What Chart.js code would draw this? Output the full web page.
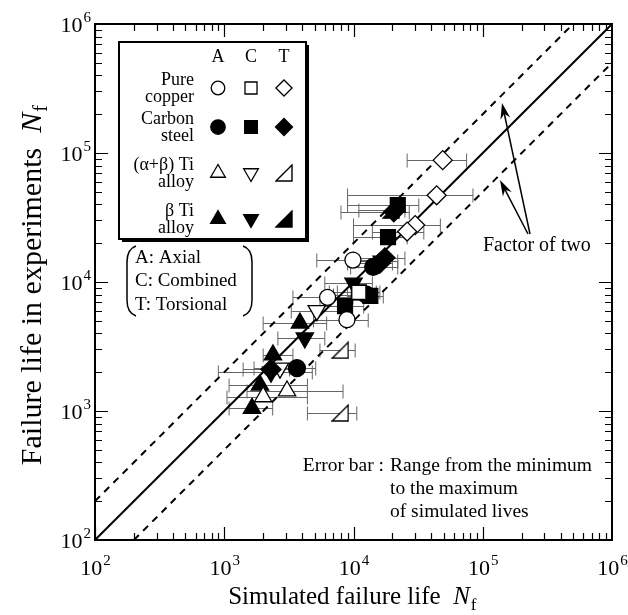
<!DOCTYPE html>
<html>
<head>
<meta charset="utf-8">
<script src="https://cdn.jsdelivr.net/npm/chart.js@4.4.1/dist/chart.umd.min.js"></script>
<style>
html, body { margin: 0; padding: 0; background: #fff; }
</style>
</head>
<body>
<canvas id="myChart" width="628" height="615"></canvas>
<script>
const ctx = document.getElementById("myChart");
const serif = '"Liberation Serif", "Times New Roman", serif';

// each row: [simulated life, experimental life, min simulated, max simulated]
const copperAxial = [[9900, 14800, 5200, 15500], [6300, 7600, 3400, 9900], [8900, 5100, 4900, 13000]];
const copperComb = [[11000, 8300, 7500, 15000]];
const copperTors = [[49000, 88000, 26000, 75000], [44000, 47000, 9000, 84000], [30000, 27600, 10000, 47000], [26000, 24600, 14000, 35000]];
const steelAxial = [[14200, 13100, 9500, 22000], [3650, 2150, 2300, 5100], [12500, 8000, 7000, 15000]];
const steelComb = [[8600, 6500, 5500, 12000], [18500, 22300, 10000, 26000], [22000, 39500, 9000, 32000], [11000, 8300, 6500, 16000], [13500, 7800, 9000, 17000]];
const steelTors = [[20500, 35000, 8000, 27000], [17500, 15400, 10000, 25000], [2300, 2100, 1400, 3200], [16000, 14000, 9000, 20000]];
const abTiAxial = [[2000, 1290, 1050, 4400], [3060, 1430, 1500, 8300]];
const abTiComb = [[5200, 6000, 3300, 8000], [2700, 2150, 1700, 3400]];
const abTiTors = [[7900, 2960, 5500, 10300], [7900, 965, 4400, 10600]];
const bTiAxial = [[3850, 4800, 2000, 6200], [2380, 2720, 2000, 3400], [1890, 1590, 1090, 4400], [1640, 1050, 1090, 2370]];
const bTiComb = [[4200, 3680, 2600, 6000], [10000, 9800, 6000, 14000], [16500, 14500, 11000, 22000], [2300, 2000, 900, 4800]];
const bTiTors = [[19500, 36000, 11000, 25000]];

const decades = [2, 3, 4, 5, 6];
const legendRows = [["Pure", "copper"], ["Carbon", "steel"], ["(\u03b1+\u03b2) Ti", "alloy"], ["\u03b2 Ti", "alloy"]];
const legendModes = ["A", "C", "T"];
const modeNotes = ["A: Axial", "C: Combined", "T: Torsional"];

let halfTri = (fill) => {
    const c = document.createElement("canvas");
    c.width = 18; c.height = 18;
    const g = c.getContext("2d");
    g.beginPath();
    g.moveTo(1, 17); g.lineTo(17, 17); g.lineTo(17, 1); g.closePath();
    g.fillStyle = fill; g.fill();
    g.lineWidth = 1.4; g.strokeStyle = "#000"; g.stroke();
    return c;
};

let series = (rows, style, radius, fill, rotation) => ({
    data: rows.map(r => ({ x: r[0], y: r[1] })),
    bars: rows.map(r => [r[2], r[3]]),
    pointStyle: style,
    pointRadius: radius,
    pointRotation: rotation || 0,
    pointBackgroundColor: fill,
    pointBorderColor: "#000",
    pointBorderWidth: 1.3,
    showLine: false,
    order: 0
});

const markerSets = [
    series(copperAxial, "circle", 8, "#fff"),
    series(copperComb, "rect", 10, "#fff"),
    series(copperTors, "rectRot", 9.5, "#fff"),
    series(steelAxial, "circle", 8.5, "#000"),
    series(steelComb, "rect", 10.5, "#000"),
    series(steelTors, "rectRot", 10, "#000"),
    series(abTiAxial, "triangle", 10, "#fff"),
    series(abTiComb, "triangle", 10, "#fff", 180),
    series(abTiTors, halfTri("#fff"), 9, "#fff"),
    series(bTiAxial, "triangle", 10, "#000"),
    series(bTiComb, "triangle", 10, "#000", 180),
    series(bTiTors, halfTri("#000"), 9, "#000")
];

let refLine = (pts, dash) => ({
    data: pts.map(p => ({ x: p[0], y: p[1] })),
    showLine: true,
    borderColor: "#000",
    borderWidth: 2,
    borderDash: dash,
    pointRadius: 0,
    order: 5
});

const errorBars = {
    id: "errorBars",
    beforeDatasetsDraw(chart) {
        const c = chart.ctx, xs = chart.scales.x, ys = chart.scales.y;
        c.save();
        c.strokeStyle = "#666";
        c.lineWidth = 1;
        chart.data.datasets.forEach(ds => {
            if (!ds.bars) return;
            ds.bars.forEach((b, i) => {
                const y = Math.round(ys.getPixelForValue(ds.data[i].y)) + 0.5;
                const x1 = xs.getPixelForValue(b[0]), x2 = xs.getPixelForValue(b[1]);
                c.beginPath();
                c.moveTo(x1, y); c.lineTo(x2, y);
                c.moveTo(x1, y - 7); c.lineTo(x1, y + 7);
                c.moveTo(x2, y - 7); c.lineTo(x2, y + 7);
                c.stroke();
            });
        });
        c.restore();
    }
};

let powLabel = (c, x, y, exp, align) => {
    c.font = "22px " + serif;
    const w1 = c.measureText("10").width;
    c.font = "15px " + serif;
    const w2 = c.measureText(String(exp)).width;
    let left = align == "center" ? x - (w1 + w2) / 2 : x - w1 - w2;
    c.textAlign = "left";
    c.textBaseline = "alphabetic";
    c.font = "22px " + serif;
    c.fillText("10", left, y);
    c.font = "15px " + serif;
    c.fillText(String(exp), left + w1 + 1, y - 10);
};

let titleText = (c, text, size, cx, y) => {
    c.font = size + "px " + serif;
    const w = c.measureText(text).width;
    c.font = "italic " + size + "px " + serif;
    const wn = c.measureText("N").width;
    const x0 = cx - (w + wn + 6) / 2;
    c.font = size + "px " + serif;
    c.fillText(text, x0, y);
    c.font = "italic " + size + "px " + serif;
    c.fillText("N", x0 + w, y);
    c.font = Math.round(size * 0.68) + "px " + serif;
    c.fillText("f", x0 + w + wn + 1, y + 6);
};

const frame = {
    id: "frame",
    afterDraw(chart) {
        const c = chart.ctx, a = chart.chartArea, xs = chart.scales.x, ys = chart.scales.y;
        c.save();
        c.strokeStyle = "#000";
        c.fillStyle = "#000";
        // ticks inward on all four sides
        c.lineWidth = 1.2;
        c.beginPath();
        for (let d = 2; d < 6; d++) {
            for (let m = 1; m <= 9; m++) {
                const v = m * Math.pow(10, d);
                const len = m == 1 ? 13 : 7;
                const px = Math.round(xs.getPixelForValue(v)) + 0.5;
                const py = Math.round(ys.getPixelForValue(v)) + 0.5;
                c.moveTo(px, a.bottom); c.lineTo(px, a.bottom - len);
                c.moveTo(px, a.top); c.lineTo(px, a.top + len);
                c.moveTo(a.left, py); c.lineTo(a.left + len, py);
                c.moveTo(a.right, py); c.lineTo(a.right - len, py);
            }
        }
        c.stroke();
        c.lineWidth = 2;
        c.strokeRect(a.left, a.top, a.right - a.left, a.bottom - a.top);

        // tick labels
        decades.forEach(d => {
            powLabel(c, xs.getPixelForValue(Math.pow(10, d)), 575, d, "center");
            powLabel(c, 90, ys.getPixelForValue(Math.pow(10, d)) + 8, d, "right");
        });

        // axis titles
        c.textBaseline = "alphabetic";
        c.textAlign = "left";
        titleText(c, "Simulated failure life  ", 25, 352, 604);
        c.save();
        c.translate(41, 286);
        c.rotate(-Math.PI / 2);
        titleText(c, "Failure life in experiments  ", 30, 0, 0);
        c.restore();

        // legend box with shadow
        const L = 119, T = 42, R = 306, B = 239;
        c.fillStyle = "#000";
        c.fillRect(L + 3, T + 3, R - L, B - T);
        c.fillStyle = "#fff";
        c.fillRect(L, T, R - L, B - T);
        c.lineWidth = 2;
        c.strokeRect(L, T, R - L, B - T);
        c.fillStyle = "#000";
        const colX = [218, 251, 284];
        const rowY = [88, 127, 173, 219];
        c.font = "18px " + serif;
        c.textAlign = "center";
        c.textBaseline = "middle";
        legendModes.forEach((m, j) => c.fillText(m, colX[j], 57));
        c.textAlign = "right";
        legendRows.forEach((r, i) => {
            c.fillText(r[0], 194, rowY[i] - 8);
            c.fillText(r[1], 194, rowY[i] + 9);
        });
        chart.data.datasets.forEach(ds => {
            if (ds.legendPos == null) return;
            const [i, j] = ds.legendPos;
            c.fillStyle = ds.pointBackgroundColor;
            c.strokeStyle = "#000";
            c.lineWidth = 1.3;
            Chart.helpers.drawPoint(c, {
                pointStyle: ds.pointStyle,
                rotation: ds.pointRotation,
                radius: ds.pointRadius * 0.85,
                borderWidth: 1.3
            }, colX[j], rowY[i]);
        });

        // mode note with brackets
        c.fillStyle = "#000";
        c.strokeStyle = "#000";
        c.lineWidth = 1.5;
        c.beginPath();
        c.moveTo(136, 246); c.quadraticCurveTo(127, 249, 127, 262);
        c.lineTo(127, 300); c.quadraticCurveTo(127, 313, 136, 316);
        c.moveTo(243, 246); c.quadraticCurveTo(252, 249, 252, 262);
        c.lineTo(252, 300); c.quadraticCurveTo(252, 313, 243, 316);
        c.stroke();
        c.textAlign = "left";
        c.font = "19px " + serif;
        modeNotes.forEach((s, i) => c.fillText(s, 135, 258 + i * 23.5));

        // factor of two note with arrows
        c.font = "20px " + serif;
        c.fillText("Factor of two", 483, 246);
        let arrow = (x1, y1, x2, y2) => {
            const ang = Math.atan2(y2 - y1, x2 - x1);
            c.beginPath();
            c.moveTo(x1, y1); c.lineTo(x2 - 10 * Math.cos(ang), y2 - 10 * Math.sin(ang));
            c.stroke();
            c.beginPath();
            c.moveTo(x2, y2);
            c.lineTo(x2 - 16 * Math.cos(ang) + 5 * Math.sin(ang), y2 - 16 * Math.sin(ang) - 5 * Math.cos(ang));
            c.lineTo(x2 - 11 * Math.cos(ang), y2 - 11 * Math.sin(ang));
            c.lineTo(x2 - 16 * Math.cos(ang) - 5 * Math.sin(ang), y2 - 16 * Math.sin(ang) + 5 * Math.cos(ang));
            c.closePath();
            c.fill();
        };
        arrow(530, 234, 502, 103);
        arrow(528, 234, 500, 180);

        // error bar note
        c.font = "19.5px " + serif;
        c.textAlign = "right";
        c.fillText("Error bar :", 384, 466);
        c.textAlign = "left";
        c.fillText("Range from the minimum", 390, 466);
        c.fillText("to the maximum", 390, 489);
        c.fillText("of simulated lives", 390, 512);
        c.restore();
    }
};

markerSets.forEach((ds, k) => { ds.legendPos = [Math.floor(k / 3), k % 3]; });

let chart = new Chart(ctx, {
    type: "scatter",
    data: {
        datasets: [
            refLine([[100, 100], [1e6, 1e6]], []),
            refLine([[100, 200], [5e5, 1e6]], [7, 6]),
            refLine([[200, 100], [1e6, 5e5]], [7, 6]),
            ...markerSets
        ]
    },
    options: {
        responsive: false,
        animation: false,
        events: [],
        layout: { padding: { left: 95, right: 16, top: 24, bottom: 75 } },
        scales: {
            x: { type: "logarithmic", min: 100, max: 1e6, display: false },
            y: { type: "logarithmic", min: 100, max: 1e6, display: false }
        },
        plugins: {
            legend: { display: false },
            tooltip: { enabled: false }
        }
    },
    plugins: [errorBars, frame]
});
</script>
</body>
</html>
